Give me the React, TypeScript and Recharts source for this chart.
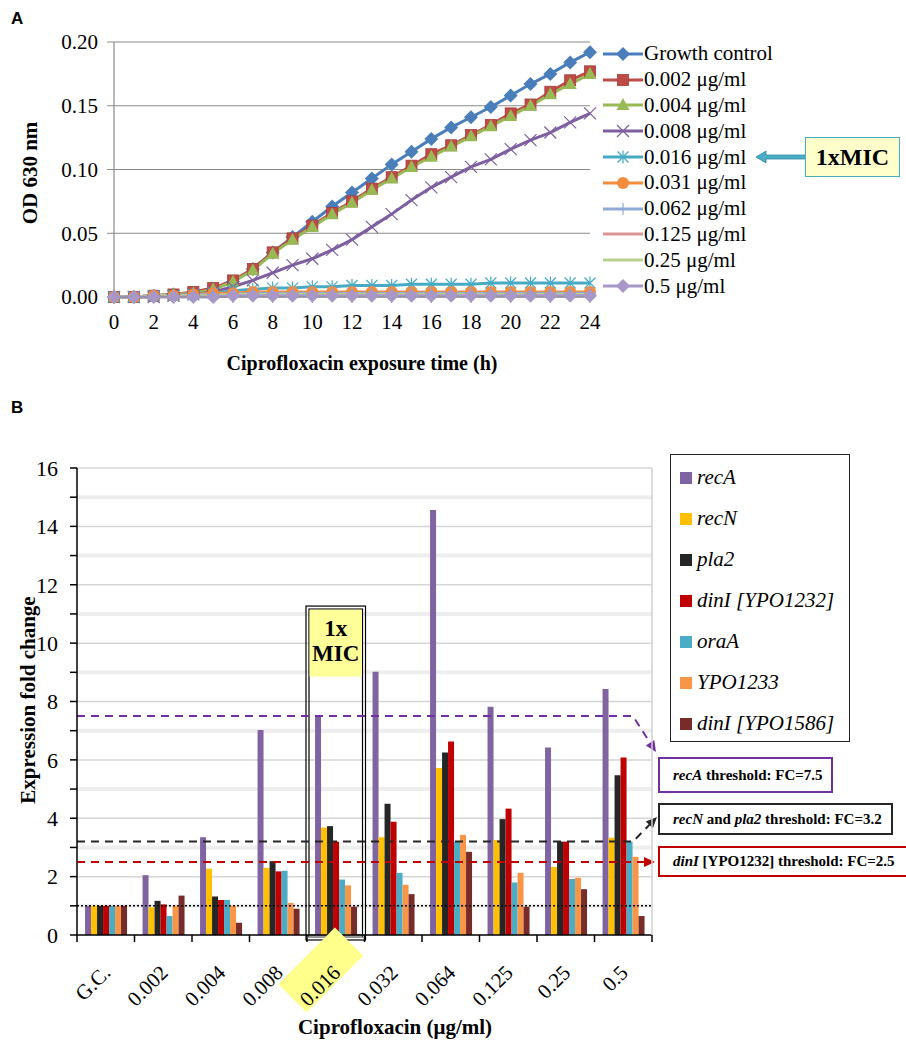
import React from 'react';
import {
  LineChart, Line, XAxis, YAxis, CartesianGrid, Legend,
  BarChart, Bar, ReferenceLine, ReferenceArea,
} from 'recharts';

const serif = "'Liberation Serif', 'Times New Roman', serif";

// ---- panel A: growth curves (OD 630 nm), hourly readings 0..24 h
const hours = [0, 1, 2, 3, 4, 5, 6, 7, 8, 9, 10, 11, 12, 13, 14, 15, 16, 17, 18, 19, 20, 21, 22, 23, 24];
const growthControl = [0, 0, 0.001, 0.002, 0.003, 0.006, 0.012, 0.022, 0.035, 0.047, 0.059, 0.071, 0.082, 0.093, 0.104, 0.114, 0.124, 0.133, 0.141, 0.149, 0.158, 0.167, 0.175, 0.184, 0.192];
const cip0002 = [0, 0, 0.001, 0.002, 0.004, 0.007, 0.013, 0.022, 0.035, 0.046, 0.056, 0.066, 0.075, 0.085, 0.094, 0.103, 0.112, 0.119, 0.127, 0.135, 0.144, 0.151, 0.161, 0.17, 0.177];
const cip0004 = [0, 0, 0.001, 0.002, 0.003, 0.006, 0.012, 0.021, 0.034, 0.045, 0.055, 0.065, 0.074, 0.084, 0.093, 0.102, 0.11, 0.118, 0.126, 0.134, 0.142, 0.15, 0.159, 0.167, 0.175];
const cip0008 = [0, 0, 0, 0.001, 0.002, 0.004, 0.008, 0.013, 0.019, 0.025, 0.03, 0.037, 0.045, 0.055, 0.065, 0.076, 0.086, 0.094, 0.102, 0.108, 0.116, 0.123, 0.129, 0.137, 0.144];
const cip0016 = [0, 0, 0.001, 0.001, 0.002, 0.003, 0.005, 0.006, 0.007, 0.007, 0.008, 0.008, 0.009, 0.009, 0.009, 0.01, 0.01, 0.01, 0.01, 0.011, 0.011, 0.011, 0.011, 0.011, 0.011];
const cip0031 = [0, 0, 0.001, 0.001, 0.002, 0.003, 0.003, 0.004, 0.004, 0.004, 0.004, 0.004, 0.004, 0.004, 0.004, 0.004, 0.004, 0.004, 0.004, 0.004, 0.004, 0.004, 0.004, 0.004, 0.004];
const cip0062 = [0, 0, 0.001, 0.001, 0.002, 0.002, 0.002, 0.003, 0.003, 0.003, 0.003, 0.003, 0.003, 0.003, 0.003, 0.003, 0.003, 0.003, 0.003, 0.003, 0.003, 0.003, 0.003, 0.003, 0.003];
const cip0125 = [0, 0, 0.001, 0.001, 0.001, 0.002, 0.002, 0.002, 0.002, 0.002, 0.002, 0.002, 0.002, 0.002, 0.002, 0.002, 0.002, 0.002, 0.002, 0.002, 0.002, 0.002, 0.002, 0.002, 0.002];
const cip025 = [0, 0, 0.001, 0.001, 0.001, 0.001, 0.002, 0.002, 0.002, 0.002, 0.002, 0.002, 0.002, 0.002, 0.002, 0.002, 0.002, 0.002, 0.002, 0.002, 0.002, 0.002, 0.002, 0.002, 0.002];
const cip05 = [0, 0, 0, 0, 0, 0, 0.001, 0.001, 0.001, 0.001, 0.001, 0.001, 0.001, 0.001, 0.001, 0.001, 0.001, 0.001, 0.001, 0.001, 0.001, 0.001, 0.001, 0.001, 0.001];
const xTicksA = [0, 2, 4, 6, 8, 10, 12, 14, 16, 18, 20, 22, 24];
const yTicksA = [0, 0.05, 0.1, 0.15, 0.2];

const seriesA = [
  { key: 's0', name: 'Growth control', color: '#4a7ebb', marker: 'diamond', values: growthControl },
  { key: 's1', name: '0.002 μg/ml', color: '#be4b48', marker: 'square', values: cip0002 },
  { key: 's2', name: '0.004 μg/ml', color: '#98b954', marker: 'triangle', values: cip0004 },
  { key: 's3', name: '0.008 μg/ml', color: '#7d5fa0', marker: 'x', values: cip0008 },
  { key: 's4', name: '0.016 μg/ml', color: '#46aac5', marker: 'star', values: cip0016 },
  { key: 's5', name: '0.031 μg/ml', color: '#f38c3c', marker: 'circle', values: cip0031 },
  { key: 's6', name: '0.062 μg/ml', color: '#8eaad6', marker: 'plus', values: cip0062 },
  { key: 's7', name: '0.125 μg/ml', color: '#d99694', marker: 'none', values: cip0125 },
  { key: 's8', name: '0.25 μg/ml', color: '#b9d08f', marker: 'none', values: cip025 },
  { key: 's9', name: '0.5 μg/ml', color: '#a798c7', marker: 'diamond', values: cip05 },
];

const lineData = hours.map((h, i) => {
  const row: Record<string, number> = { h };
  seriesA.forEach((s) => { row[s.key] = s.values[i]; });
  return row;
});

// ---- panel B: expression fold change per ciprofloxacin concentration
const categories = ['G.C.', '0.002', '0.004', '0.008', '0.016', '0.032', '0.064', '0.125', '0.25', '0.5'];
const recA = [1.0, 2.05, 3.35, 7.02, 7.5, 9.02, 14.56, 7.82, 6.42, 8.43];
const recN = [1.0, 0.95, 2.27, 2.3, 3.68, 3.35, 5.72, 3.25, 2.33, 3.33];
const pla2 = [1.0, 1.17, 1.32, 2.53, 3.73, 4.5, 6.25, 3.97, 3.2, 5.47];
const dinI1232 = [1.0, 1.05, 1.2, 2.18, 3.2, 3.88, 6.63, 4.33, 3.2, 6.08];
const oraA = [1.0, 0.65, 1.2, 2.2, 1.9, 2.13, 3.2, 1.8, 1.92, 3.2];
const ypo1233 = [1.0, 1.0, 1.0, 1.1, 1.7, 1.72, 3.43, 2.13, 1.96, 2.68];
const dinI1586 = [1.0, 1.35, 0.42, 0.9, 0.97, 1.4, 2.85, 0.97, 1.57, 0.65];
const yTicksB = [0, 1, 2, 3, 4, 5, 6, 7, 8, 9, 10, 11, 12, 13, 14, 15, 16];
const evenGrid = [2, 4, 6, 8, 10, 12, 14, 16];
const oddGrid = [1, 3, 5, 7, 9, 11, 13, 15];
const recAThreshold = 7.5;
const recNpla2Threshold = 3.2;
const dinIThreshold = 2.5;
const baselineFC = 1;
const micTop = 11.27;

const seriesB = [
  { key: 'recA', name: 'recA', color: '#8064a2', values: recA },
  { key: 'recN', name: 'recN', color: '#ffc000', values: recN },
  { key: 'pla2', name: 'pla2', color: '#262626', values: pla2 },
  { key: 'dinI1232', name: 'dinI [YPO1232]', color: '#c00000', values: dinI1232 },
  { key: 'oraA', name: 'oraA', color: '#4bacc6', values: oraA },
  { key: 'ypo1233', name: 'YPO1233', color: '#f79646', values: ypo1233 },
  { key: 'dinI1586', name: 'dinI [YPO1586]', color: '#772c2a', values: dinI1586 },
];

const barData = categories.map((c, i) => {
  const row: Record<string, any> = { conc: c };
  seriesB.forEach((s) => { row[s.key] = s.values[i]; });
  return row;
});

const B_LEFT = 77;
const B_RIGHT = 652;
const BAND = (B_RIGHT - B_LEFT) / categories.length;

const Marker = ({ shape, cx, cy, color }: any) => {
  if (cx == null || cy == null) return null;
  switch (shape) {
    case 'diamond':
      return <polygon points={`${cx},${cy - 7} ${cx + 7},${cy} ${cx},${cy + 7} ${cx - 7},${cy}`} fill={color} />;
    case 'square':
      return <rect x={cx - 5.5} y={cy - 5.5} width={11} height={11} fill={color} stroke="#a33c3a" strokeWidth={0.8} />;
    case 'triangle':
      return <polygon points={`${cx},${cy - 7} ${cx + 6.5},${cy + 5} ${cx - 6.5},${cy + 5}`} fill={color} />;
    case 'x':
      return (
        <g stroke={color} strokeWidth={1.2}>
          <line x1={cx - 6} y1={cy - 6} x2={cx + 6} y2={cy + 6} />
          <line x1={cx - 6} y1={cy + 6} x2={cx + 6} y2={cy - 6} />
        </g>
      );
    case 'star':
      return (
        <g stroke={color} strokeWidth={1.2}>
          <line x1={cx - 5.5} y1={cy - 5.5} x2={cx + 5.5} y2={cy + 5.5} />
          <line x1={cx - 5.5} y1={cy + 5.5} x2={cx + 5.5} y2={cy - 5.5} />
          <line x1={cx} y1={cy - 6.5} x2={cx} y2={cy + 6.5} />
        </g>
      );
    case 'circle':
      return <circle cx={cx} cy={cy} r={6} fill={color} />;
    case 'plus':
      return (
        <g stroke={color} strokeWidth={1.2}>
          <line x1={cx - 6} y1={cy} x2={cx + 6} y2={cy} />
          <line x1={cx} y1={cy - 6} x2={cx} y2={cy + 6} />
        </g>
      );
    default:
      return null;
  }
};

const LegendA = () => (
  <div style={{ fontFamily: serif, fontSize: 21, color: '#000' }}>
    {seriesA.map((s) => (
      <div key={s.key} style={{ height: 25.8, display: 'flex', alignItems: 'center', whiteSpace: 'nowrap' }}>
        <svg width={40} height={20} style={{ marginRight: 1 }}>
          <line x1={0} x2={40} y1={10} y2={10} stroke={s.color} strokeWidth={3} />
          <Marker shape={s.marker} cx={20} cy={10} color={s.color} />
        </svg>
        <span>{s.name}</span>
      </div>
    ))}
  </div>
);

const LegendB = () => (
  <div style={{
    width: 180, height: 288, boxSizing: 'border-box', border: '1.5px solid #222',
    fontFamily: serif, fontSize: 21, fontStyle: 'italic', padding: '2px 0 0 9px', background: '#fff',
  }}>
    {seriesB.map((s) => (
      <div key={s.key} style={{ height: 41, display: 'flex', alignItems: 'center', whiteSpace: 'nowrap' }}>
        <span style={{ display: 'inline-block', width: 12, height: 12, background: s.color, marginRight: 5 }} />
        <span>{s.name}</span>
      </div>
    ))}
  </div>
);

const CatTick = (props: any) => {
  const { x, y, payload, index } = props;
  const half = BAND / 2;
  const ex = x + 6;
  const ey = y + 39;
  const hx = x - 15;
  const hy = y + 35;
  return (
    <g>
      <line x1={x - half} x2={x - half} y1={y} y2={y + 7} stroke="#000" strokeWidth={1.5} />
      {index === categories.length - 1 && (
        <line x1={x + half} x2={x + half} y1={y} y2={y + 7} stroke="#000" strokeWidth={1.5} />
      )}
      {payload.value === '0.016' && (
        <rect x={hx - 40} y={hy - 20} width={80} height={40} fill="#ffff8c" transform={`rotate(-45 ${hx} ${hy})`} />
      )}
      <text x={ex} y={ey} textAnchor="end" fontSize={21} fontFamily={serif} fill="#000" transform={`rotate(-45 ${ex} ${ey})`}>
        {payload.value}
      </text>
    </g>
  );
};

const arrowHead = (tx: number, ty: number, fx: number, fy: number, color: string) => {
  const dx = tx - fx;
  const dy = ty - fy;
  const len = Math.sqrt(dx * dx + dy * dy) || 1;
  const ux = dx / len;
  const uy = dy / len;
  const bx = tx - ux * 11;
  const by = ty - uy * 11;
  const px = -uy * 5;
  const py = ux * 5;
  return <polygon points={`${tx},${ty} ${bx + px},${by + py} ${bx - px},${by - py}`} fill={color} />;
};

// threshold lines: run along the FC value, then bend to their annotation box
const bentThreshold = (bendX: number | null, tipX: number, tipY: number | null, color: string) => (p: any) => {
  const y = p.y1;
  if (bendX == null || tipY == null) {
    return (
      <g>
        <path d={`M${p.x1},${y} H${tipX - 10}`} stroke={color} strokeWidth={2} strokeDasharray="8 6" fill="none" />
        {arrowHead(tipX, y, tipX - 20, y, color)}
      </g>
    );
  }
  const ex = tipX - (tipX - bendX) * 0.3;
  const eyy = tipY - (tipY - y) * 0.3;
  return (
    <g>
      <path d={`M${p.x1},${y} H${bendX} L${ex},${eyy}`} stroke={color} strokeWidth={2} strokeDasharray="8 6" fill="none" />
      {arrowHead(tipX, tipY, bendX, y, color)}
    </g>
  );
};

const MicBox = (p: any) => {
  const { x, y, width, height } = p;
  const cx = x + width / 2;
  return (
    <g>
      <rect x={x - 1} y={y} width={width + 2} height={height + 5} fill="none" stroke="#000" strokeWidth={1.2} />
      <rect x={x + 2} y={y + 3} width={width - 4} height={height - 1} fill="none" stroke="#000" strokeWidth={1.2} />
      <rect x={x + 2.6} y={y + 3.6} width={width - 5.2} height={67} fill="#ffff99" />
      <rect x={x + 2} y={y + height - 1} width={width - 4} height={4} fill="#999" />
      <text x={cx} y={y + 30} textAnchor="middle" fontFamily={serif} fontWeight="bold" fontSize={23}>1x</text>
      <text x={cx} y={y + 55} textAnchor="middle" fontFamily={serif} fontWeight="bold" fontSize={23}>MIC</text>
    </g>
  );
};

const boxText: React.CSSProperties = {
  position: 'absolute', left: 658, boxSizing: 'border-box', background: '#fff',
  fontFamily: serif, fontWeight: 'bold', fontSize: 15, paddingLeft: 13,
  display: 'flex', alignItems: 'center', whiteSpace: 'nowrap',
};

export default function App() {
  return (
    <div style={{ position: 'absolute', left: 0, top: 0, width: 906, height: 1041, background: '#fff', fontFamily: serif, overflow: 'hidden' }}>
      <div style={{ position: 'absolute', left: 11, top: 9, fontFamily: 'Liberation Sans, Arial, sans-serif', fontWeight: 'bold', fontSize: 17 }}>A</div>
      <div style={{ position: 'absolute', left: 11, top: 398, fontFamily: 'Liberation Sans, Arial, sans-serif', fontWeight: 'bold', fontSize: 17 }}>B</div>

      <div style={{ position: 'absolute', left: 0, top: 0 }}>
        <LineChart width={906} height={385} data={lineData} margin={{ top: 42, right: 316, bottom: 38, left: 54 }}>
          <CartesianGrid vertical={false} stroke="#8a8a8a" strokeWidth={1.2} />
          <XAxis
            dataKey="h" type="number" domain={[0, 24]} ticks={xTicksA} interval={0}
            height={50} tickSize={6} tickMargin={11}
            axisLine={{ stroke: '#8a8a8a', strokeWidth: 1.2 }} tickLine={{ stroke: '#8a8a8a' }}
            tick={{ fill: '#000', fontSize: 21, fontFamily: serif }}
            label={{
              content: () => (
                <text x={362} y={370} textAnchor="middle" fontFamily={serif} fontWeight="bold" fontSize={20}>
                  Ciprofloxacin exposure time (h)
                </text>
              ),
            }}
          />
          <YAxis
            type="number" domain={[0, 0.2]} ticks={yTicksA} interval={0} width={60}
            tickFormatter={(v: number) => v.toFixed(2)} tickSize={7} tickMargin={9}
            axisLine={{ stroke: '#8a8a8a', strokeWidth: 1.2 }} tickLine={{ stroke: '#8a8a8a' }}
            tick={{ fill: '#000', fontSize: 21, fontFamily: serif }}
            label={{
              content: () => (
                <text x={30} y={173} transform="rotate(-90 30 173)" textAnchor="middle" dominantBaseline="central"
                  fontFamily={serif} fontWeight="bold" fontSize={21}>
                  OD 630 nm
                </text>
              ),
            }}
          />
          <Legend
            layout="horizontal" align="center" verticalAlign="middle"
            wrapperStyle={{ left: 603, top: 41, width: 200, height: 260 }}
            content={() => <LegendA />}
          />
          {seriesA.map((s) => (
            <Line
              key={s.key} dataKey={s.key} name={s.name} stroke={s.color} strokeWidth={3}
              isAnimationActive={false} type="linear"
              dot={(p: any) => <Marker key={`${s.key}-${p.index}`} shape={s.marker} cx={p.cx} cy={p.cy} color={s.color} />}
              activeDot={false}
            />
          ))}
        </LineChart>
      </div>

      {/* 1xMIC callout for panel A */}
      <svg style={{ position: 'absolute', left: 750, top: 147, overflow: 'visible' }} width={60} height={20}>
        <polygon points="6,10 16,4 16,8 56,8 56,12 16,12 16,16" fill="#4bacc6" stroke="#2f8aa3" strokeWidth={0.8} />
      </svg>
      <div style={{
        position: 'absolute', left: 805, top: 137, width: 95, height: 40, boxSizing: 'border-box',
        background: '#ffffcc', border: '1.5px solid #4bacc6', display: 'flex', alignItems: 'center',
        justifyContent: 'center', fontFamily: serif, fontWeight: 'bold', fontSize: 24,
      }}>
        1xMIC
      </div>

      <div style={{ position: 'absolute', left: 0, top: 380 }}>
        <BarChart
          width={906} height={661} data={barData}
          margin={{ top: 88, right: 253, bottom: 6, left: 27 }}
          barGap={0} barCategoryGap="14%"
        >
          <CartesianGrid vertical={false} horizontalValues={oddGrid} stroke="#eeeeee" strokeWidth={4} />
          <CartesianGrid vertical={false} horizontalValues={evenGrid} stroke="#d6d6d6" strokeWidth={1.5} />
          <XAxis
            dataKey="conc" height={100} interval={0} tickLine={false} tickSize={0} tickMargin={0}
            axisLine={{ stroke: '#000', strokeWidth: 1.5 }} tick={<CatTick />}
            label={{
              content: () => (
                <text x={395} y={654} textAnchor="middle" fontFamily={serif} fontWeight="bold" fontSize={21}>
                  Ciprofloxacin (μg/ml)
                </text>
              ),
            }}
          />
          <YAxis
            type="number" domain={[0, 16]} ticks={yTicksB} interval={0} width={50}
            tickFormatter={(v: number) => (v % 2 === 0 ? String(v) : '')} tickSize={7} tickMargin={12}
            axisLine={{ stroke: '#000', strokeWidth: 1.5 }} tickLine={{ stroke: '#000', strokeWidth: 1.5 }}
            tick={{ fill: '#000', fontSize: 22, fontFamily: serif }}
            label={{
              content: () => (
                <text x={28} y={320} transform="rotate(-90 28 320)" textAnchor="middle" dominantBaseline="central"
                  fontFamily={serif} fontWeight="bold" fontSize={21}>
                  Expression fold change
                </text>
              ),
            }}
          />
          <YAxis
            yAxisId="r" orientation="right" type="number" domain={[0, 16]} width={1}
            tick={false} tickLine={false} axisLine={{ stroke: '#d0d0d0', strokeWidth: 1.5 }}
          />
          <Legend
            layout="horizontal" align="center" verticalAlign="middle"
            wrapperStyle={{ left: 670, top: 74, width: 180, height: 288 }}
            content={() => <LegendB />}
          />
          {seriesB.map((s) => (
            <Bar key={s.key} dataKey={s.key} name={s.name} fill={s.color} isAnimationActive={false} />
          ))}
          <ReferenceArea x1="0.016" x2="0.016" y1={0} y2={micTop} ifOverflow="visible" shape={MicBox} />
          <ReferenceLine y={baselineFC} stroke="#000" strokeWidth={1.5} strokeDasharray="2 2" />
          <ReferenceLine y={recAThreshold} ifOverflow="visible" shape={bentThreshold(633, 656, 372, '#7030a0')} />
          <ReferenceLine y={recNpla2Threshold} ifOverflow="visible" shape={bentThreshold(633, 657, 437, '#262626')} />
          <ReferenceLine y={dinIThreshold} ifOverflow="visible" shape={bentThreshold(null, 655, null, '#c00000')} />
        </BarChart>
      </div>

      {/* threshold annotation boxes */}
      <div style={{ ...boxText, top: 757, width: 175, height: 36, border: '2px solid #7030a0' }}>
        <i>recA</i>&nbsp;threshold: FC=7.5
      </div>
      <div style={{ ...boxText, top: 803, width: 235, height: 32, border: '2px solid #262626' }}>
        <i>recN</i>&nbsp;and&nbsp;<i>pla2</i>&nbsp;threshold: FC=3.2
      </div>
      <div style={{ ...boxText, top: 846, width: 262, height: 31, border: '2px solid #c00000' }}>
        <i>dinI</i>&nbsp;[YPO1232] threshold: FC=2.5
      </div>
    </div>
  );
}
